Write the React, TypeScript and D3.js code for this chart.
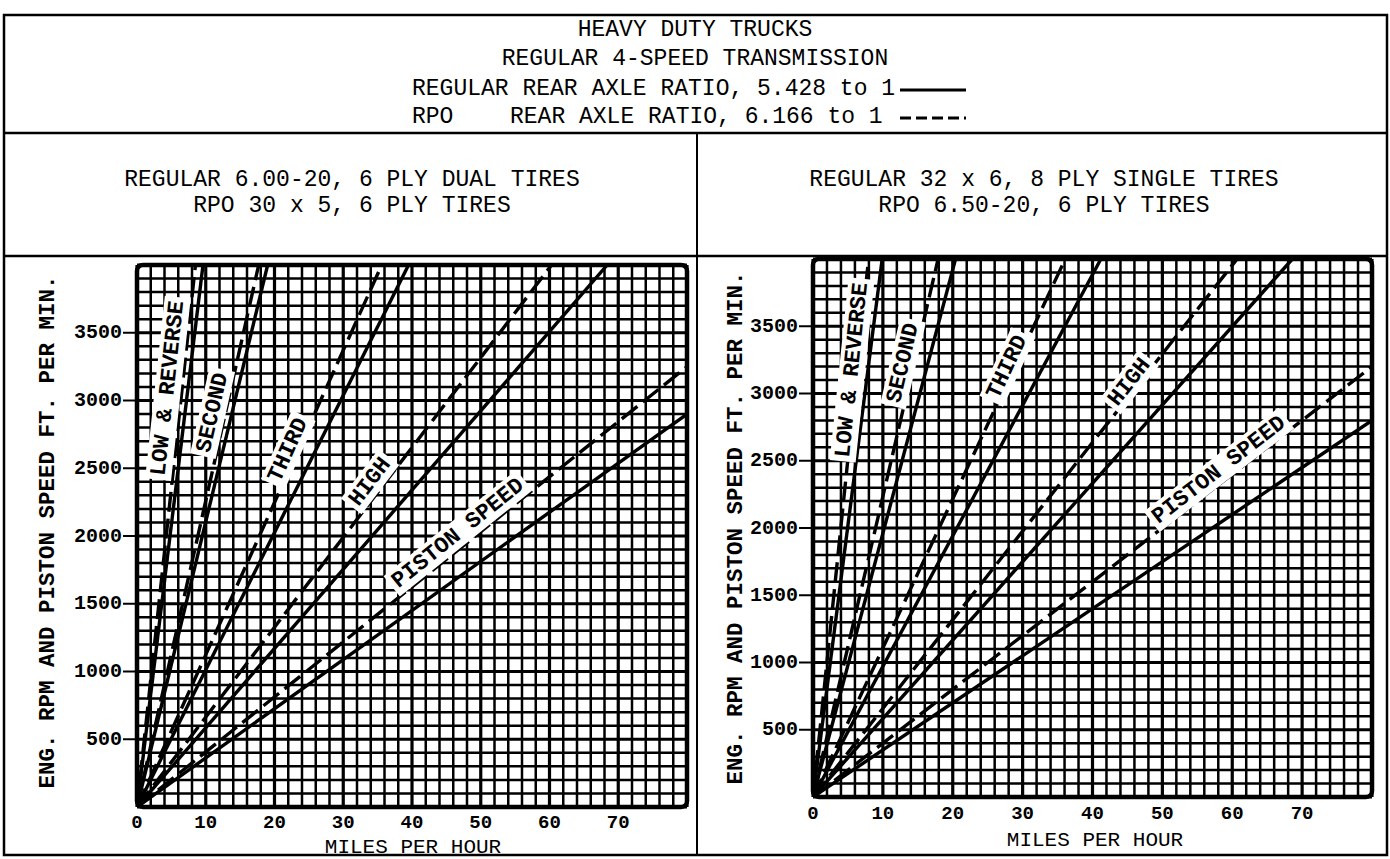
import React from 'react';
import * as d3 from 'd3';

const W = 1390;
const H = 859;

// ---------- text ----------
const headerTitles = ['HEAVY DUTY TRUCKS', 'REGULAR 4-SPEED TRANSMISSION'];
const legendSolidText = 'REGULAR REAR AXLE RATIO, 5.428 to 1';
const legendDashedPrefix = 'RPO';
const legendDashedText = 'REAR AXLE RATIO, 6.166 to 1';
const leftSubtitle = ['REGULAR 6.00-20, 6 PLY DUAL TIRES', 'RPO 30 x 5, 6 PLY TIRES'];
const rightSubtitle = ['REGULAR 32 x 6, 8 PLY SINGLE TIRES', 'RPO 6.50-20, 6 PLY TIRES'];
const yTitle = 'ENG. RPM AND PISTON SPEED FT. PER MIN.';
const xTitle = 'MILES PER HOUR';

// ---------- data ----------
const xTicks = [0, 10, 20, 30, 40, 50, 60, 70];
const yTicks = [500, 1000, 1500, 2000, 2500, 3000, 3500];
const gearNames = ['LOW & REVERSE', 'SECOND', 'THIRD', 'HIGH', 'PISTON SPEED'];

// end point [mph, rpm] of each straight line from the origin
const leftSolidEnds = [[9.6, 4000], [19.0, 4000], [39.5, 4000], [68.4, 4000], [80, 2900]];
const leftDashedEnds = [[8.5, 4000], [17.7, 4000], [35.6, 4000], [60.3, 4000], [80, 3250]];
const rightSolidEnds = [[9.9, 4000], [20.4, 4000], [41.2, 4000], [68.6, 4000], [80, 2800]];
const rightDashedEnds = [[7.95, 4000], [17.9, 4000], [36.1, 4000], [60.7, 4000], [80, 3200]];

// label anchors [mph, rpm]
const leftLabelAt = [[4.5, 3090], [11.0, 2910], [22.0, 2635], [33.9, 2400], [46.7, 2020]];
const rightLabelAt = [[5.6, 3175], [12.9, 3227], [27.8, 3197], [45.3, 3085], [58.1, 2431]];

const FONT = '"Liberation Mono", "DejaVu Sans Mono", monospace';

type Geo = { x0: number; x1: number; y0: number; y1: number; tickY: number; titleX: number; titleY: number; yTitleX: number; yTitleY: number };

const leftGeo: Geo = { x0: 137, x1: 687, y0: 807, y1: 265, tickY: 823, titleX: 413, titleY: 847, yTitleX: 48, yTitleY: 532 };
const rightGeo: Geo = { x0: 813, x1: 1372, y0: 797, y1: 259, tickY: 814, titleX: 1095, titleY: 840, yTitleX: 736, yTitleY: 528 };

function Panel({ geo, solid, dashed, labels, clipId }: { geo: Geo; solid: number[][]; dashed: number[][]; labels: number[][]; clipId: string }) {
  const x = d3.scaleLinear().domain([0, 80]).range([geo.x0, geo.x1]);
  const y = d3.scaleLinear().domain([0, 4000]).range([geo.y0, geo.y1]);
  const vLines = d3.range(0, 81, 2);
  const hLines = d3.range(0, 4001, 100);
  const line = d3.line<number[]>().x((d) => x(d[0])).y((d) => y(d[1]));

  return (
    <g>
      <defs>
        <clipPath id={clipId}>
          <rect x={geo.x0} y={geo.y1} width={geo.x1 - geo.x0} height={geo.y0 - geo.y1} />
        </clipPath>
      </defs>
      <rect x={geo.x0} y={geo.y1} width={geo.x1 - geo.x0} height={geo.y0 - geo.y1} fill="#fff" />
      {vLines.map((v) => (
        <line key={'v' + v} x1={x(v)} x2={x(v)} y1={y(0)} y2={y(4000)} stroke="#000" strokeWidth={v % 10 === 0 ? 3.2 : 2.5} />
      ))}
      {hLines.map((v) => (
        <line key={'h' + v} x1={x(0)} x2={x(80)} y1={y(v)} y2={y(v)} stroke="#000" strokeWidth={v % 500 === 0 ? 3.2 : 2.5} />
      ))}
      <g clipPath={`url(#${clipId})`}>
        {solid.map((e, i) => (
          <path key={'s' + i} d={line([[0, 0], e]) || ''} stroke="#000" strokeWidth={3.4} fill="none" />
        ))}
        {dashed.map((e, i) => (
          <path key={'d' + i} d={line([[0, 0], e]) || ''} stroke="#000" strokeWidth={3.4} fill="none" strokeDasharray="20,7" />
        ))}
      </g>
      <rect x={geo.x0} y={geo.y1} width={geo.x1 - geo.x0} height={geo.y0 - geo.y1} fill="none" stroke="#000" strokeWidth={4.5} rx={6} />
      {labels.map((p, i) => {
        const e = dashed[i];
        const ang = (Math.atan2(y(e[1]) - y(0), x(e[0]) - x(0)) * 180) / Math.PI;
        const name = gearNames[i];
        const w = name.length * 13.5 + 8;
        return (
          <g key={'l' + i} transform={`translate(${x(p[0])},${y(p[1])}) rotate(${ang})`}>
            <rect x={-w / 2} y={-13} width={w} height={26} fill="#fff" />
            <text x={0} y={0} textAnchor="middle" dominantBaseline="central" fontFamily={FONT} fontWeight="bold" fontSize={22.5} fill="#000">
              {name}
            </text>
          </g>
        );
      })}
      {yTicks.map((t) => (
        <g key={'yt' + t}>
          <line x1={geo.x0 - 14} x2={geo.x0} y1={y(t)} y2={y(t)} stroke="#000" strokeWidth={2} />
          <text x={geo.x0 - 15} y={y(t)} textAnchor="end" dominantBaseline="central" fontFamily={FONT} fontWeight="bold" fontSize={20} fill="#000">
            {t}
          </text>
        </g>
      ))}
      {xTicks.map((t) => (
        <text key={'xt' + t} x={x(t)} y={geo.tickY} textAnchor="middle" dominantBaseline="central" fontFamily={FONT} fontWeight="bold" fontSize={19} fill="#000">
          {t}
        </text>
      ))}
      <text x={geo.titleX} y={geo.titleY} textAnchor="middle" dominantBaseline="central" fontFamily={FONT} fontSize={21} fill="#000">
        {xTitle}
      </text>
      <text
        transform={`translate(${geo.yTitleX},${geo.yTitleY}) rotate(-90)`}
        textAnchor="middle"
        dominantBaseline="central"
        fontFamily={FONT}
        fontWeight="bold"
        fontSize={22.5}
        fill="#000"
      >
        {yTitle}
      </text>
    </g>
  );
}

export default function App() {
  const frame = { l: 4, r: 1387, t: 15, b: 855 };
  const headerBottom = 133;
  const plotTop = 256;
  const divX = 697;
  const HF = 23;
  return (
    <svg width={W} height={H} style={{ display: 'block', position: 'absolute', left: 0, top: 0 }} xmlns="http://www.w3.org/2000/svg">
      <rect x={0} y={0} width={W} height={H} fill="#fff" />
      <rect x={frame.l} y={frame.t} width={frame.r - frame.l} height={frame.b - frame.t} fill="none" stroke="#000" strokeWidth={2.5} />
      <line x1={frame.l} x2={frame.r} y1={headerBottom} y2={headerBottom} stroke="#000" strokeWidth={2.5} />
      <line x1={frame.l} x2={frame.r} y1={plotTop} y2={plotTop} stroke="#000" strokeWidth={2.5} />
      <line x1={divX} x2={divX} y1={headerBottom} y2={frame.b} stroke="#000" strokeWidth={2} />

      {headerTitles.map((t, i) => (
        <text key={t} x={695} y={30 + i * 29} textAnchor="middle" dominantBaseline="central" fontFamily={FONT} fontSize={HF} fill="#000">
          {t}
        </text>
      ))}
      <text x={412} y={89} dominantBaseline="central" fontFamily={FONT} fontSize={HF} fill="#000">
        {legendSolidText}
      </text>
      <line x1={900} x2={966} y1={90} y2={90} stroke="#000" strokeWidth={3} />
      <text x={412} y={117} dominantBaseline="central" fontFamily={FONT} fontSize={HF} fill="#000">
        {legendDashedPrefix}
      </text>
      <text x={510} y={117} dominantBaseline="central" fontFamily={FONT} fontSize={HF} fill="#000">
        {legendDashedText}
      </text>
      <line x1={900} x2={966} y1={118} y2={118} stroke="#000" strokeWidth={3} strokeDasharray="11,5" />

      {leftSubtitle.map((t, i) => (
        <text key={t} x={352} y={180 + i * 26} textAnchor="middle" dominantBaseline="central" fontFamily={FONT} fontSize={HF} fill="#000">
          {t}
        </text>
      ))}
      {rightSubtitle.map((t, i) => (
        <text key={t} x={1044} y={180 + i * 26} textAnchor="middle" dominantBaseline="central" fontFamily={FONT} fontSize={HF} fill="#000">
          {t}
        </text>
      ))}

      <Panel geo={leftGeo} solid={leftSolidEnds} dashed={leftDashedEnds} labels={leftLabelAt} clipId="clipL" />
      <Panel geo={rightGeo} solid={rightSolidEnds} dashed={rightDashedEnds} labels={rightLabelAt} clipId="clipR" />
    </svg>
  );
}
